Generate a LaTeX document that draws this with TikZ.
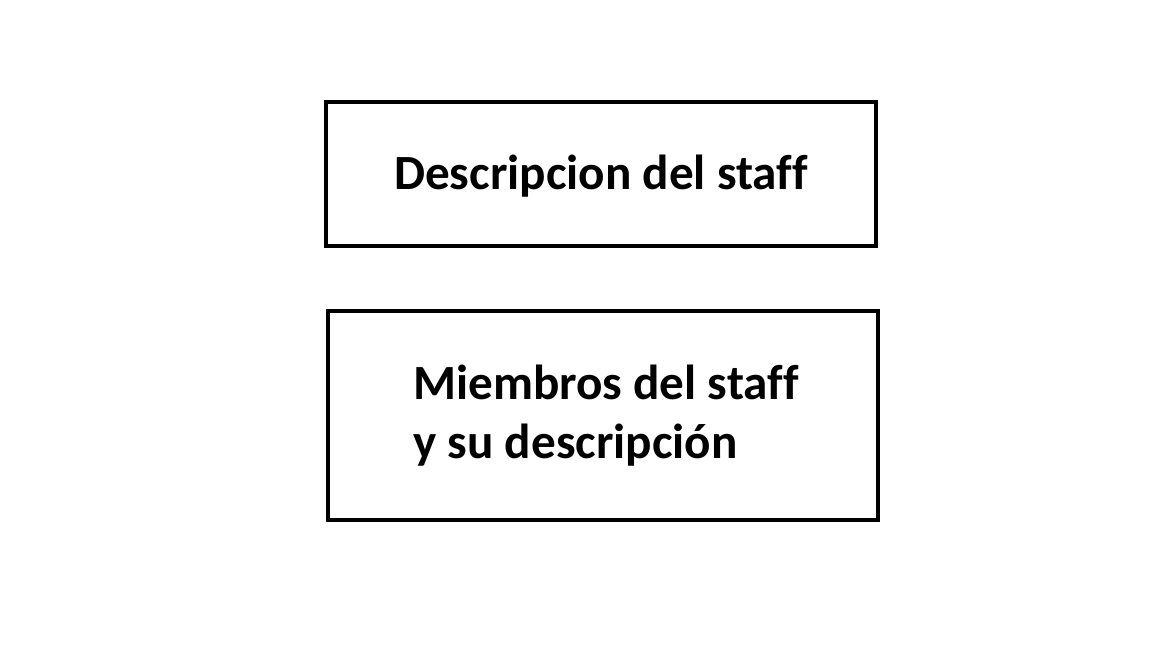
\documentclass[tikz,border=0pt]{standalone}
\usepackage{fontspec}
\setmainfont[Ligatures={NoCommon}]{Carlito}
\usetikzlibrary{positioning}
\tikzset{
  staffbox/.style={draw, line width=2pt, rectangle, minimum width=11cm, inner sep=0pt,
    font=\fontsize{28}{33.5}\selectfont\bfseries, align=left}
}
\begin{document}
\begin{tikzpicture}[x=0.02cm,y=-0.02cm]
      \useasboundingbox (0,0) rectangle (1150,662);

      \node[staffbox, minimum height=2.88cm, text depth=2pt] (descr) at (601,174) {Descripcion del staff};
      \node[staffbox, minimum height=4.18cm, inner xsep=0.12cm] (miembros) at (603,415.5)
        {\hspace{0.12cm}Miembros del staff\\\hspace{0.12cm}y su descripción};
    \end{tikzpicture}
\end{document}
